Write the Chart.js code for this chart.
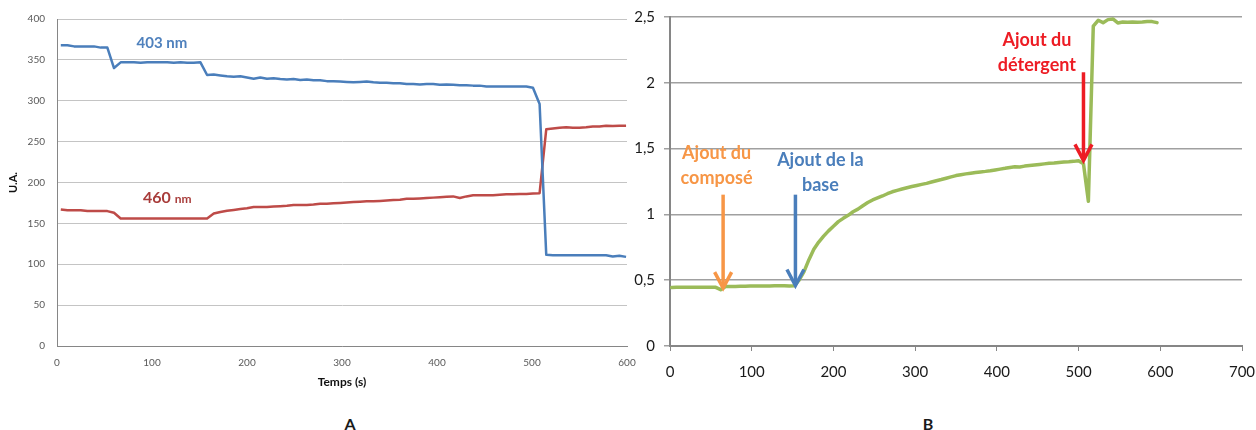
<!DOCTYPE html>
<html>
<head>
<meta charset="utf-8">
<script src="https://cdn.jsdelivr.net/npm/chart.js@4"></script>
<style>
  body { margin: 0; background: #fff; }
  #wrap { position: relative; width: 1256px; height: 430px; overflow: hidden; }
  #chartA { position: absolute; left: 0; top: 0; }
  #chartB { position: absolute; left: 630px; top: 0; }
  .panel { position: absolute; font: bold 16px Lato, sans-serif; color: #1a1a1a; transform: translate(-50%, -50%); }
</style>
</head>
<body>
<div id="wrap">
  <canvas id="chartA" width="640" height="400"></canvas>
  <canvas id="chartB" width="626" height="400"></canvas>
  <div class="panel" style="left:350px; top:423px;">A</div>
  <div class="panel" style="left:928px; top:423px;">B</div>
</div>
<script>
// --- chart A : absorbance at two wavelengths ---
const timesA = [4, 11, 18, 25, 32, 39, 46, 53, 60, 67,
    74, 81, 88, 95, 102, 109, 116, 123, 130, 137,
    144, 151, 158, 165, 172, 179, 186, 193, 200, 207,
    214, 221, 228, 235, 242, 249, 256, 263, 270, 277,
    284, 291, 298, 305, 312, 319, 326, 333, 340, 347,
    354, 361, 368, 375, 382, 389, 396, 403, 410, 417,
    424, 431, 438, 445, 452, 459, 466, 473, 480, 487,
    494, 501, 508, 515, 522, 529, 536, 543, 550, 557,
    564, 571, 578, 585, 592, 599];

const blue403 = [368, 368, 366.5, 366.5, 366.5, 366.5, 365, 365, 340, 347,
    347, 347, 346.5, 347, 347, 347, 347, 346.5, 347, 346.5,
    346.5, 347, 331.5, 332, 331, 330, 329.5, 330, 328.5, 327,
    328.5, 327, 327.5, 326.5, 326, 326.5, 325.5, 326, 325, 325,
    324, 324, 323.5, 323, 322.5, 323, 323.5, 322.5, 322, 322,
    321.5, 321.5, 320.5, 320.5, 320, 320.5, 320.5, 319.5, 320, 319.5,
    319, 319, 318.5, 318.5, 317.5, 317.5, 317.5, 317.5, 317.5, 317.5,
    317.5, 316, 296, 111.5, 111, 111, 111, 111, 111, 111,
    111, 111, 111, 109.5, 110.5, 109];

const red460 = [167, 166, 166, 166, 165, 165, 165, 165, 163, 156,
    156, 156, 156, 156, 156, 156, 156, 156, 156, 156,
    156, 156, 156, 162, 164, 165.5, 166.5, 167.5, 168.5, 170,
    170, 170, 170.5, 171, 171.5, 172.5, 172.5, 172.5, 173, 174,
    174, 174.5, 175, 175.5, 176, 176.5, 177, 177, 177.5, 178,
    178.5, 179, 180, 180, 180.5, 181, 181.5, 182, 182.5, 183,
    181, 183, 184.5, 184.5, 184.5, 184.5, 185, 185.5, 185.5, 186,
    186, 186.5, 187, 265, 266, 267, 267.5, 267, 267, 267.5,
    268.5, 268.5, 269.5, 269, 269.5, 269.5];

// --- chart B : kinetics after additions ---
const timesB = [2, 8, 14, 20, 26, 32, 38, 44, 50, 56,
    62, 68, 74, 80, 86, 92, 98, 104, 110, 116,
    122, 128, 134, 140, 146, 152, 158, 164, 170, 176,
    182, 188, 194, 200, 206, 212, 218, 224, 230, 236,
    242, 248, 254, 260, 266, 272, 278, 284, 290, 296,
    302, 308, 314, 320, 326, 332, 338, 344, 350, 356,
    362, 368, 374, 380, 386, 392, 398, 404, 410, 416,
    422, 428, 434, 440, 446, 452, 458, 464, 470, 476,
    482, 488, 494, 500, 506, 512, 518, 524, 530, 536,
    542, 548, 554, 560, 566, 572, 578, 584, 590, 596];

const greenB = [0.445, 0.446, 0.446, 0.447, 0.446, 0.446, 0.447, 0.446, 0.446, 0.446,
    0.428, 0.452, 0.453, 0.453, 0.454, 0.454, 0.455, 0.455, 0.455, 0.456,
    0.456, 0.457, 0.457, 0.457, 0.456, 0.457, 0.5, 0.565, 0.656, 0.735,
    0.79, 0.835, 0.875, 0.91, 0.945, 0.97, 0.993, 1.02, 1.04, 1.066,
    1.09, 1.11, 1.125, 1.14, 1.157, 1.172, 1.183, 1.193, 1.203, 1.212,
    1.22, 1.228, 1.236, 1.246, 1.256, 1.265, 1.275, 1.285, 1.295, 1.302,
    1.308, 1.313, 1.318, 1.323, 1.327, 1.332, 1.338, 1.344, 1.35, 1.357,
    1.362, 1.36, 1.367, 1.372, 1.376, 1.38, 1.384, 1.388, 1.39, 1.395,
    1.398, 1.4, 1.403, 1.407, 1.385, 1.1, 2.43, 2.475, 2.457, 2.48,
    2.485, 2.455, 2.462, 2.46, 2.462, 2.46, 2.462, 2.465, 2.465, 2.457];

const yTickLabelsB = ['0', '0,5', '1', '1,5', '2', '2,5'];

const FONT = 'Lato, "Open Sans", sans-serif';

function pts(xs, ys) {
    return xs.map((x, i) => ({ x: x, y: ys[i] }));
}

// fixed axis boxes so the plot areas sit where the original has them
function fixX(s) { s.height = 54; s.paddingLeft = 0; s.paddingRight = 0; }
function fixY(w) {
    return s => { s.width = w; s.paddingTop = 0; s.paddingBottom = 0; };
}

// series names written next to the curves in chart A
const seriesLabelsA = {
    id: 'seriesLabelsA',
    afterDatasetsDraw(chart) {
        const { ctx, scales: { x, y } } = chart;
        ctx.save();
        ctx.textBaseline = 'middle';
        ctx.textAlign = 'center';
        ctx.fillStyle = '#4f81bd';
        ctx.font = 'bold 15px ' + FONT;
        ctx.fillText('403 nm', x.getPixelForValue(110.5), y.getPixelForValue(370.5));

        ctx.textAlign = 'left';
        ctx.fillStyle = '#a83c3a';
        ctx.font = 'bold 16px ' + FONT;
        const lx = x.getPixelForValue(90.5), ly = y.getPixelForValue(181);
        ctx.fillText('460', lx, ly);
        const w = ctx.measureText('460 ').width;
        ctx.font = 'bold 12px ' + FONT;
        ctx.fillText('nm', lx + w, ly + 1);
        ctx.restore();
    }
};

// arrows and captions marking the additions in chart B
const additions = [
    { t: 65, top: 1.15, tip: 0.44, color: '#f79646', text: ['Ajout du', 'composé'], tx: 57, ty: [1.467, 1.277] },
    { t: 153.5, top: 1.15, tip: 0.46, color: '#4a7ebb', text: ['Ajout de la', 'base'], tx: 184, ty: [1.413, 1.223] },
    { t: 506, top: 2.08, tip: 1.41, color: '#ed1c24', text: ['Ajout du', 'détergent'], tx: 449, ty: [2.325, 2.135] }
];

const additionArrows = {
    id: 'additionArrows',
    afterDatasetsDraw(chart) {
        const { ctx, scales: { x, y } } = chart;
        ctx.save();
        additions.forEach(a => {
            const px = x.getPixelForValue(a.t);
            const y0 = y.getPixelForValue(a.top);
            const y1 = y.getPixelForValue(a.tip);
            ctx.strokeStyle = a.color;
            ctx.lineWidth = 3.5;
            ctx.lineCap = 'butt';
            ctx.beginPath();
            ctx.moveTo(px, y0);
            ctx.lineTo(px, y1 - 2);
            ctx.stroke();
            ctx.lineJoin = 'miter';
            ctx.beginPath();
            ctx.moveTo(px - 8.5, y1 - 16);
            ctx.lineTo(px, y1);
            ctx.lineTo(px + 8.5, y1 - 16);
            ctx.stroke();

            ctx.fillStyle = a.color;
            ctx.font = 'bold 18px ' + FONT;
            ctx.textAlign = 'center';
            ctx.textBaseline = 'middle';
            a.text.forEach((line, i) => {
                ctx.fillText(line, x.getPixelForValue(a.tx), y.getPixelForValue(a.ty[i]));
            });
        });
        ctx.restore();
    }
};

new Chart(document.getElementById('chartA'), {
    type: 'line',
    data: {
        datasets: [
            { label: '403 nm', data: pts(timesA, blue403), borderColor: '#4a7ebb', borderWidth: 2.5 },
            { label: '460 nm', data: pts(timesA, red460), borderColor: '#be4b48', borderWidth: 2.5 }
        ]
    },
    options: {
        responsive: false,
        animation: false,
        layout: { padding: { top: 19, right: 13, left: 0, bottom: 0 } },
        elements: { point: { radius: 0 }, line: { tension: 0, borderJoinStyle: 'round' } },
        plugins: { legend: { display: false }, tooltip: { enabled: false } },
        scales: {
            x: {
                type: 'linear', min: 0, max: 600,
                ticks: { stepSize: 100, padding: 11, maxRotation: 0, color: '#595959', font: { family: FONT, size: 10 } },
                grid: { display: false, drawTicks: false },
                border: { color: '#868686', width: 1 },
                title: { display: true, text: 'Temps (s)', color: '#111', font: { family: FONT, size: 12, weight: 'bold' }, padding: { top: 4, bottom: 11 } },
                afterFit: fixX
            },
            y: {
                min: 0, max: 400,
                ticks: { stepSize: 50, padding: 12, color: '#595959', font: { family: FONT, size: 10 } },
                grid: { color: '#c4c4c4', drawTicks: false },
                border: { color: '#868686', width: 1 },
                title: { display: true, text: 'U.A.', color: '#111', font: { family: FONT, size: 11, weight: 'bold' }, padding: { top: 7, bottom: 0 } },
                afterFit: fixY(57)
            }
        }
    },
    plugins: [seriesLabelsA]
});

new Chart(document.getElementById('chartB'), {
    type: 'line',
    data: {
        datasets: [
            { label: 'B', data: pts(timesB, greenB), borderColor: '#9bbb59', borderWidth: 3.5, borderCapStyle: 'round' }
        ]
    },
    options: {
        responsive: false,
        animation: false,
        layout: { padding: { top: 17, right: 14, left: 0, bottom: 0 } },
        elements: { point: { radius: 0 }, line: { tension: 0, borderJoinStyle: 'round' } },
        plugins: { legend: { display: false }, tooltip: { enabled: false } },
        scales: {
            x: {
                type: 'linear', min: 0, max: 700,
                ticks: { stepSize: 100, padding: 12, maxRotation: 0, color: '#1a1a1a', font: { family: FONT, size: 15 } },
                grid: { drawOnChartArea: false, drawTicks: true, tickLength: 5, color: '#868686' },
                border: { color: '#868686', width: 2 },
                afterFit: fixX
            },
            y: {
                min: 0, max: 2.5,
                ticks: {
                    stepSize: 0.5, padding: 9, color: '#1a1a1a', font: { family: FONT, size: 15 },
                    callback: (v, i) => yTickLabelsB[i]
                },
                grid: { color: '#a0a0a0', lineWidth: 1.5, drawTicks: true, tickLength: 6 },
                border: { color: '#868686', width: 2 },
                afterFit: fixY(40)
            }
        }
    },
    plugins: [additionArrows]
});
</script>
</body>
</html>
